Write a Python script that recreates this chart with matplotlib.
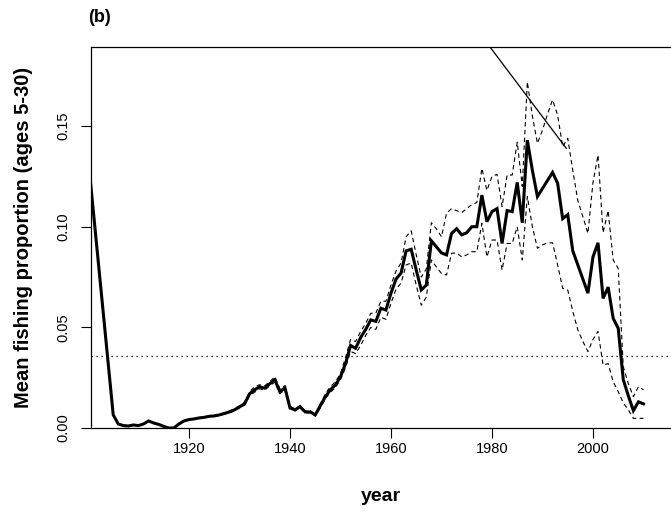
import numpy as np
import matplotlib
matplotlib.use('Agg')
import matplotlib.pyplot as plt

plt.rcParams['font.family'] = ['Liberation Sans', 'DejaVu Sans']

# Mean fishing proportion (solid line)
years = [1900] + list(range(1905, 2011))
mean_f = [0.135,
          0.0065, 0.002, 0.0012, 0.001, 0.0015, 0.0012, 0.002, 0.0035, 0.0025, 0.0018,   # 1905-1914
          0.0008, 0.0, 0.0, 0.002, 0.0035, 0.0042, 0.0045, 0.005, 0.0053, 0.0058,        # 1915-1924
          0.006, 0.0065, 0.0072, 0.008, 0.009, 0.0105, 0.012, 0.017, 0.019, 0.0205,      # 1925-1934
          0.0198, 0.022, 0.024, 0.018, 0.020, 0.010, 0.009, 0.0106, 0.008, 0.008,        # 1935-1944
          0.0065, 0.011, 0.0155, 0.019, 0.0214, 0.0255, 0.032, 0.041, 0.0396, 0.045,     # 1945-1954
          0.049, 0.0537, 0.053, 0.0595, 0.0586, 0.067, 0.074, 0.077, 0.088, 0.0888,      # 1955-1964
          0.0785, 0.0686, 0.071, 0.093, 0.090, 0.087, 0.086, 0.0967, 0.099, 0.096,       # 1965-1974
          0.097, 0.100, 0.100, 0.1157, 0.1025, 0.1075, 0.109, 0.0917, 0.108, 0.1075,     # 1975-1984
          0.122, 0.102, 0.143, 0.128, 0.115, 0.119, 0.123, 0.127, 0.1216, 0.104,         # 1985-1994
          0.106, 0.088, 0.081, 0.074, 0.067, 0.085, 0.092, 0.0644, 0.070, 0.0545,        # 1995-2004
          0.0495, 0.024, 0.016, 0.0086, 0.013, 0.012]                                    # 2005-2010

# Upper / lower bounds (dashed lines)
band_years = list(range(1925, 2011))
upper_f = [0.0062, 0.0068, 0.0075, 0.0085, 0.0095, 0.011, 0.0128, 0.018, 0.0205, 0.0215,   # 1925-1934
           0.021, 0.023, 0.0255, 0.0195, 0.021, 0.0108, 0.0095, 0.011, 0.0085, 0.0085,      # 1935-1944
           0.007, 0.012, 0.017, 0.0205, 0.023, 0.027, 0.035, 0.044, 0.043, 0.048,           # 1945-1954
           0.052, 0.057, 0.057, 0.063, 0.063, 0.071, 0.078, 0.082, 0.095, 0.098,           # 1955-1964
           0.086, 0.075, 0.079, 0.102, 0.099, 0.095, 0.1067, 0.109, 0.108, 0.107,          # 1965-1974
           0.109, 0.111, 0.112, 0.129, 0.118, 0.125, 0.126, 0.110, 0.1257, 0.1257,         # 1975-1984
           0.142, 0.120, 0.172, 0.155, 0.1414, 0.148, 0.156, 0.163, 0.1555, 0.1397,        # 1985-1994
           0.144, 0.128, 0.113, 0.105, 0.0967, 0.122, 0.1356, 0.097, 0.108, 0.0835,        # 1995-2004
           0.0793, 0.0305, 0.022, 0.0156, 0.0205, 0.019]                                   # 2005-2010
lower_f = [0.0058, 0.0062, 0.0069, 0.0075, 0.0085, 0.010, 0.0112, 0.016, 0.0178, 0.0195,   # 1925-1934
           0.0188, 0.021, 0.0228, 0.017, 0.019, 0.0094, 0.0085, 0.010, 0.0075, 0.0075,      # 1935-1944
           0.006, 0.010, 0.0145, 0.0178, 0.020, 0.024, 0.030, 0.038, 0.037, 0.041,          # 1945-1954
           0.046, 0.050, 0.049, 0.055, 0.054, 0.062, 0.069, 0.072, 0.081, 0.082,           # 1955-1964
           0.071, 0.061, 0.065, 0.0835, 0.080, 0.0768, 0.076, 0.0868, 0.087, 0.085,        # 1965-1974
           0.086, 0.0876, 0.0876, 0.1017, 0.085, 0.0934, 0.0934, 0.0785, 0.0917, 0.0917,   # 1975-1984
           0.100, 0.0835, 0.115, 0.100, 0.0893, 0.091, 0.092, 0.092, 0.081, 0.0694,        # 1985-1994
           0.0686, 0.058, 0.0487, 0.043, 0.038, 0.044, 0.048, 0.0313, 0.032, 0.023,        # 1995-2004
           0.018, 0.0125, 0.009, 0.0048, 0.0048, 0.0048]                                   # 2005-2010

# reference level (dotted) and the thin diagonal segment
ref_level = 0.036
seg_years = [1977.0, 1994.7]
seg_vals = [0.198, 0.139]

xticks = [1920, 1940, 1960, 1980, 2000]
yticks = [0.00, 0.05, 0.10, 0.15]
ytick_labels = ['0.00', '0.05', '0.10', '0.15']

fig = plt.figure(figsize=(6.71, 5.12), dpi=100)
ax = fig.add_axes([91 / 671, 1 - 428 / 512, 580 / 671, 381 / 512])

ax.plot(years, mean_f, color='black', lw=2.2, solid_joinstyle='miter')
ax.plot(band_years, upper_f, color='black', lw=0.8, linestyle=(0, (4, 3)))
ax.plot(band_years, lower_f, color='black', lw=0.8, linestyle=(0, (4, 3)))
ax.axhline(ref_level, color='black', lw=0.9, linestyle=(0, (1, 3)))
ax.plot(seg_years, seg_vals, color='black', lw=0.9)

ax.set_xlim(1900.6, 2015.45)
ax.set_ylim(0, 0.1893)

ax.set_xticks(xticks)
ax.set_yticks(yticks)
ax.set_yticklabels(ytick_labels, rotation=90, va='center')
ax.tick_params(direction='out', length=7, width=0.8, labelsize=10.5, color='black')
ax.tick_params(axis='x', pad=3)
ax.tick_params(axis='y', pad=7.5)

ax.spines['right'].set_visible(False)
for s in ['left', 'bottom', 'top']:
    ax.spines[s].set_linewidth(0.9)

ax.set_xlabel('year', fontsize=14, fontweight='bold')
ax.xaxis.set_label_coords(0.5, -0.181)
ax.xaxis.label.set_va('center')
ax.set_ylabel('Mean fishing proportion (ages 5-30)', fontsize=14.5, fontweight='bold')
ax.yaxis.set_label_coords(-0.117, 0.5)
ax.yaxis.label.set_va('center')

fig.text(88 / 671, 1 - 18 / 512, '(b)', fontsize=13, fontweight='bold', ha='left', va='center')

fig.savefig('out.png', dpi=100)
